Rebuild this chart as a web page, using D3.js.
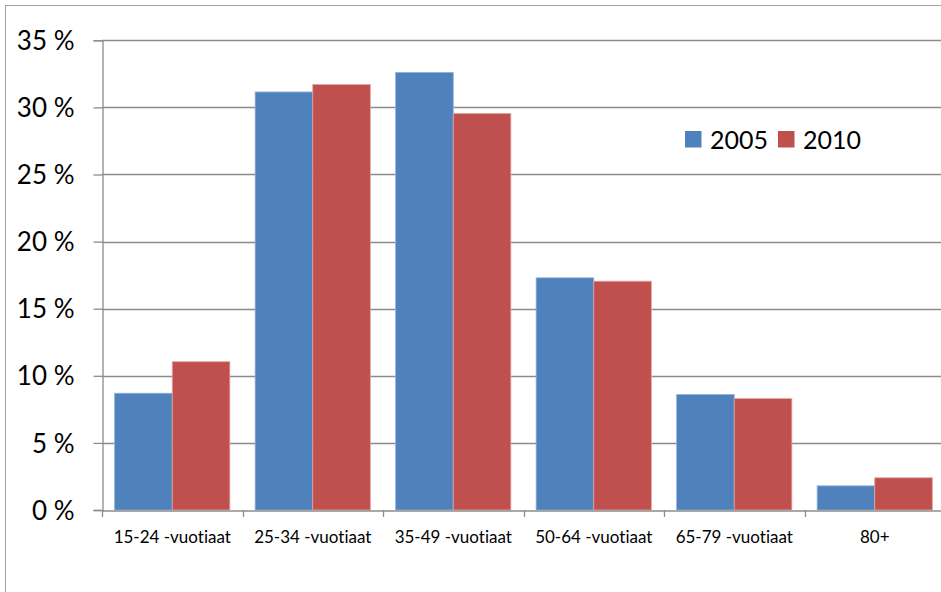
<!DOCTYPE html>
<html>
<head>
<meta charset="utf-8">
<script src="https://cdn.jsdelivr.net/npm/d3@7"></script>
<style>
  body { margin: 0; background: #fff; }
  text { font-family: Lato, "Open Sans", sans-serif; fill: #000; font-variant-ligatures: none; }
</style>
</head>
<body>
<div id="chart"></div>
<script>
// data
var categories = ["15-24 -vuotiaat", "25-34 -vuotiaat", "35-49 -vuotiaat", "50-64 -vuotiaat", "65-79 -vuotiaat", "80+"];
var seriesNames = ["2005", "2010"];
var values2005 = [8.7, 31.15, 32.6, 17.3, 8.6, 1.8];
var values2010 = [11.05, 31.7, 29.55, 17.05, 8.3, 2.4];
var yTicks = [0, 5, 10, 15, 20, 25, 30, 35];

var colors = ["#4F81BD", "#C0504D"];
var edges = ["#8fb0d8", "#e3a3a1"];

var width = 941, height = 592;
var plotLeft = 102, plotRight = 945, plotTop = 40.3, plotBottom = 510;

var svg = d3.select("#chart").append("svg")
    .attr("width", width)
    .attr("height", height);

// outer frame
svg.append("rect")
    .attr("x", 5.5).attr("y", 5.5)
    .attr("width", width + 10).attr("height", height + 10)
    .attr("fill", "none").attr("stroke", "#a0a0a0");

var x = d3.scaleBand()
    .domain(categories)
    .range([plotLeft, plotRight])
    .paddingInner(0.18)
    .paddingOuter(0.09);

var x1 = d3.scaleBand()
    .domain(seriesNames)
    .range([0, x.bandwidth()]);

var y = d3.scaleLinear()
    .domain([0, 35])
    .range([plotBottom, plotTop]);

// gridlines
svg.append("g").selectAll("line")
    .data(yTicks.filter(function (d) { return d > 0; }))
    .enter().append("line")
    .attr("x1", plotLeft).attr("x2", width)
    .attr("y1", function (d) { return Math.round(y(d)) + 0.5; })
    .attr("y2", function (d) { return Math.round(y(d)) + 0.5; })
    .attr("stroke", "#8c8c8c").attr("stroke-width", 1.3);

// bars
var groups = svg.append("g").selectAll("g")
    .data(categories)
    .enter().append("g")
    .attr("transform", function (d) { return "translate(" + x(d) + ",0)"; });

groups.selectAll("rect")
    .data(function (d, i) {
        return [
            { s: 0, name: seriesNames[0], v: values2005[i] },
            { s: 1, name: seriesNames[1], v: values2010[i] }
        ];
    })
    .enter().append("rect")
    .attr("x", function (d) { return x1(d.name); })
    .attr("width", x1.bandwidth())
    .attr("y", function (d) { return y(d.v); })
    .attr("height", function (d) { return plotBottom - y(d.v); })
    .attr("fill", function (d) { return colors[d.s]; })
    .attr("stroke", function (d) { return edges[d.s]; })
    .attr("stroke-width", 0.8);

// y axis
var yAxis = d3.axisLeft(y)
    .tickValues(yTicks)
    .tickSize(9)
    .tickPadding(19)
    .tickFormat(function (d) { return d + " %"; });

var gy = svg.append("g")
    .attr("transform", "translate(" + (plotLeft + 0.5) + ",0)")
    .call(yAxis);
gy.select(".domain").attr("stroke", "#8c8c8c").attr("stroke-width", 1.3);
gy.selectAll(".tick line").attr("stroke", "#8c8c8c").attr("stroke-width", 1.3);
gy.selectAll(".tick text").style("font-size", "26px").attr("dy", "0.35em");

// x axis
var xAxis = d3.axisBottom(x)
    .tickSize(0)
    .tickPadding(20);

var gx = svg.append("g")
    .attr("transform", "translate(0," + (plotBottom + 0.5) + ")")
    .call(xAxis);
gx.select(".domain").attr("stroke", "#8c8c8c").attr("stroke-width", 1.3);
gx.selectAll(".tick text").style("font-size", "17px");

// category separators
var step = x.step();
var seps = d3.range(categories.length + 1).map(function (i) { return plotLeft + i * step; });
svg.append("g").selectAll("line")
    .data(seps)
    .enter().append("line")
    .attr("x1", function (d) { return Math.round(d) + 0.5; })
    .attr("x2", function (d) { return Math.round(d) + 0.5; })
    .attr("y1", plotBottom).attr("y2", plotBottom + 7)
    .attr("stroke", "#8c8c8c").attr("stroke-width", 1.3);

// legend
var legend = svg.append("g").attr("transform", "translate(685,131)");
var legendX = [0, 93];
seriesNames.forEach(function (name, i) {
    legend.append("rect")
        .attr("x", legendX[i]).attr("y", 0)
        .attr("width", 16.5).attr("height", 16.5)
        .attr("fill", colors[i]);
    legend.append("text")
        .attr("x", legendX[i] + 25).attr("y", 8.5)
        .attr("dy", "0.36em")
        .style("font-size", "25px")
        .text(name);
});
</script>
</body>
</html>
